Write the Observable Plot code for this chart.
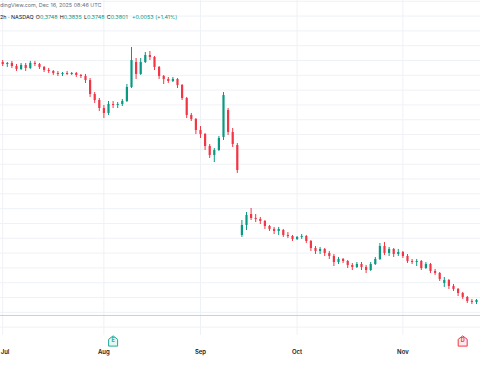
<!DOCTYPE html>
<html><head><meta charset="utf-8">
<script src="https://cdn.jsdelivr.net/npm/d3@7"></script>
<script src="https://cdn.jsdelivr.net/npm/@observablehq/plot@0.6"></script>
<style>
html,body{margin:0;padding:0;background:#fff;}
#wrap{position:relative;width:480px;height:384px;overflow:hidden;font-family:Inter,"Liberation Sans",sans-serif;}
#hdr{position:absolute;left:0;top:0;font-size:5.4px;line-height:1;white-space:nowrap;}
#l1{position:absolute;left:0;top:3px;color:#6a6d78;}
#l2{position:absolute;left:0;top:14.5px;color:#131722;}
#l2 .v{color:#089981;}
#l2 .k{margin-left:2.2px;}
</style></head><body>
<div id="wrap"><div id="chart"></div>
<div id="hdr"><div id="l1"></div><div id="l2"></div></div></div>
<script>
// daily candles, index 0 = Jun 30 2025 (trading days)
const open = [0.7000,0.6973,0.6946,0.6960,0.6919,0.6879,0.6933,0.6892,0.6960,0.6946,
0.6906,0.6865,0.6852,0.6825,0.6811,0.6825,0.6811,0.6825,0.6798,0.6784,
0.6730,0.6541,0.6460,0.6352,0.6285,0.6406,0.6393,0.6406,0.6447,0.6636,
0.6973,0.6811,0.6973,0.7068,0.7041,0.6906,0.6784,0.6744,0.6717,0.6744,
0.6663,0.6487,0.6258,0.6204,0.6055,0.6001,0.5839,0.5718,0.5785,0.5961,
0.6325,0.6028,0.5853,0.4638,0.4773,0.4921,0.4867,0.4854,0.4827,0.4759,
0.4719,0.4692,0.4705,0.4638,0.4624,0.4584,0.4611,0.4624,0.4557,0.4462,
0.4422,0.4449,0.4395,0.4354,0.4273,0.4314,0.4287,0.4233,0.4206,0.4246,
0.4206,0.4165,0.4246,0.4314,0.4489,0.4395,0.4449,0.4381,0.4408,0.4354,
0.4287,0.4273,0.4287,0.4192,0.4246,0.4152,0.4125,0.3990,0.4030,0.3949,
0.3909,0.3855,0.3801,0.3747,0.3733,0.3760];
const high = [0.7027,0.7000,0.6973,0.6987,0.6946,0.6960,0.6960,0.6987,0.6987,0.6960,
0.6919,0.6892,0.6865,0.6852,0.6838,0.6852,0.6838,0.6838,0.6811,0.6811,
0.6757,0.6568,0.6487,0.6393,0.6447,0.6447,0.6433,0.6474,0.6676,0.7176,
0.7027,0.7027,0.7108,0.7122,0.7054,0.6919,0.6798,0.6771,0.6771,0.6757,
0.6676,0.6501,0.6285,0.6217,0.6109,0.6015,0.5866,0.5812,0.5974,0.6568,
0.6352,0.6082,0.5880,0.4840,0.4948,0.5002,0.4921,0.4881,0.4840,0.4773,
0.4746,0.4746,0.4719,0.4678,0.4638,0.4624,0.4651,0.4638,0.4570,0.4489,
0.4476,0.4462,0.4422,0.4381,0.4341,0.4327,0.4300,0.4260,0.4273,0.4273,
0.4233,0.4273,0.4341,0.4530,0.4543,0.4476,0.4462,0.4449,0.4422,0.4381,
0.4314,0.4314,0.4300,0.4273,0.4260,0.4179,0.4138,0.4071,0.4044,0.3976,
0.3922,0.3868,0.3814,0.3774,0.3774,0.3787];
const low = [0.6946,0.6919,0.6906,0.6892,0.6852,0.6865,0.6852,0.6879,0.6919,0.6879,
0.6838,0.6825,0.6798,0.6784,0.6784,0.6798,0.6798,0.6771,0.6757,0.6690,
0.6501,0.6420,0.6312,0.6217,0.6258,0.6352,0.6352,0.6379,0.6433,0.6622,
0.6744,0.6798,0.6960,0.7000,0.6865,0.6744,0.6676,0.6690,0.6703,0.6622,
0.6460,0.6217,0.6177,0.6001,0.5947,0.5785,0.5677,0.5623,0.5772,0.5920,
0.5988,0.5826,0.5475,0.4611,0.4705,0.4840,0.4813,0.4786,0.4719,0.4692,
0.4651,0.4638,0.4611,0.4597,0.4557,0.4570,0.4584,0.4530,0.4422,0.4381,
0.4381,0.4354,0.4314,0.4219,0.4246,0.4260,0.4192,0.4165,0.4192,0.4165,
0.4125,0.4152,0.4233,0.4300,0.4368,0.4354,0.4341,0.4354,0.4327,0.4260,
0.4246,0.4219,0.4165,0.4179,0.4125,0.4098,0.4017,0.3936,0.3909,0.3882,
0.3814,0.3774,0.3720,0.3706,0.3706,0.3720];
const close = [0.6973,0.6946,0.6960,0.6919,0.6879,0.6933,0.6892,0.6960,0.6946,0.6906,
0.6865,0.6852,0.6825,0.6811,0.6825,0.6811,0.6825,0.6798,0.6784,0.6730,
0.6541,0.6460,0.6352,0.6285,0.6406,0.6393,0.6406,0.6447,0.6636,0.7000,
0.6811,0.6973,0.7068,0.7041,0.6906,0.6784,0.6744,0.6717,0.6744,0.6663,
0.6487,0.6258,0.6204,0.6055,0.6001,0.5839,0.5718,0.5785,0.5947,0.6528,
0.6028,0.5866,0.5515,0.4773,0.4908,0.4867,0.4854,0.4827,0.4759,0.4719,
0.4692,0.4719,0.4638,0.4624,0.4584,0.4611,0.4624,0.4557,0.4462,0.4422,
0.4449,0.4395,0.4354,0.4273,0.4314,0.4287,0.4233,0.4206,0.4246,0.4206,
0.4165,0.4246,0.4314,0.4489,0.4395,0.4449,0.4381,0.4408,0.4354,0.4287,
0.4273,0.4287,0.4192,0.4246,0.4152,0.4125,0.4044,0.4030,0.3949,0.3909,
0.3855,0.3801,0.3747,0.3733,0.3760,0.3747];

const monthLabels = ["Jul","Aug","Sep","Oct","Nov"];
const monthBars = [1,23,44,65,88];
const gridPrices = [0.34,0.36,0.38,0.40,0.42,0.44,0.46,0.48,0.50,0.52,0.54,0.56,0.58,0.60,0.62,0.64,0.66,0.68,0.70,0.72,0.74,0.76,0.78];
const priceLine = 0.3558;
const paneBottom = 0.3288;
const eventBars = [25,101];
const eventLetters = ["E","D"];
const eventColors = ["#22ab94","#f23645"];
const eventFills = ["#e6f6f3","#fde9eb"];

const headerLine1 = "dingView.com, Dec 16, 2025 08:46 UTC";
const headerLine2 = [["2h \u00b7 NASDAQ",""],["O","0.3748"],["H","0.3835"],["L","0.3748"],["C","0.3801"],["","+0.0053 (+1.41%)"]];

const UP = "#089981", DOWN = "#f23645";
const bars = open.map((o,i)=>({i, o, h:high[i], l:low[i], c:close[i]}));
const col = d => d.c >= d.o ? UP : DOWN;

const badge = {
  draw(ctx, size) {
    ctx.moveTo(-4.5,-2.2); ctx.lineTo(0,-5.6); ctx.lineTo(4.5,-2.2);
    ctx.lineTo(4.5,4.6); ctx.lineTo(-4.5,4.6); ctx.closePath();
  }
};
const font = "Inter, Liberation Sans, sans-serif";

const chart = Plot.plot({
  width: 480, height: 384, margin: 0,
  style: {background: "transparent", overflow: "hidden"},
  x: {domain: [0.522, 104.87], axis: null},
  y: {domain: [0.2626, 0.781], axis: null},
  marks: [
    Plot.ruleY(gridPrices, {stroke: "#eef1f6", strokeWidth: 1}),
    Plot.ruleX(monthBars, {y1: paneBottom, y2: 0.781, stroke: "#eef1f6", strokeWidth: 1}),
    Plot.ruleY([priceLine], {stroke: "#aadfd5", strokeWidth: 1}),
    Plot.ruleX(bars, {x: "i", y1: "l", y2: "h", stroke: col, strokeWidth: 1, clip: true}),
    Plot.ruleX(bars, {x: "i", y1: "o", y2: "c", stroke: col, strokeWidth: 2.2, clip: true}),
    Plot.text(monthBars, {filter: (d,k)=>k===0, x: d=>d, text: (d,k)=>monthLabels[k], textAnchor: "start", dx: -2, frameAnchor: "bottom", dy: -31, fill: "#131722", fontSize: 6, fontWeight: 600, fontFamily: font}),
    Plot.text(monthBars, {filter: (d,k)=>k>0, x: d=>d, text: (d,k)=>monthLabels[k], frameAnchor: "bottom", dy: -31, fill: "#131722", fontSize: 6, fontWeight: 600, fontFamily: font}),
    Plot.dot(eventBars, {x: d=>d, frameAnchor: "bottom", dy: -43, symbol: badge, r: 5, stroke: (d,k)=>eventColors[k], fill: (d,k)=>eventFills[k], strokeWidth: 1}),
    Plot.text(eventBars, {x: d=>d, text: (d,k)=>eventLetters[k], frameAnchor: "bottom", dy: -42.5, fill: (d,k)=>eventColors[k], fontSize: 5.5, fontWeight: 700, fontFamily: font})
  ]
});
document.getElementById("chart").appendChild(chart);

document.getElementById("l1").textContent = headerLine1;
const l2 = document.getElementById("l2");
headerLine2.forEach(([k,v],n)=>{
  const s = document.createElement("span");
  s.className = n ? "k" : "";
  s.textContent = k;
  l2.appendChild(s);
  if (v) { const t = document.createElement("span"); t.className = "v"; t.textContent = v; if(!k) t.style.marginLeft="2.2px"; l2.appendChild(t); }
});
</script>
</body></html>
